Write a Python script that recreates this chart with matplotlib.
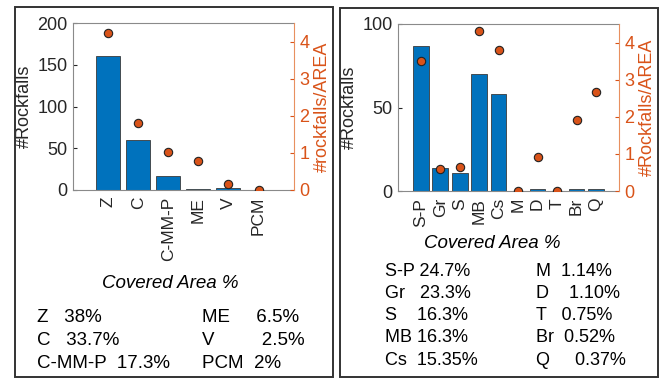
import matplotlib.pyplot as plt
import matplotlib.patches as patches

plt.rcParams['font.family'] = ['Liberation Sans', 'DejaVu Sans']

# left panel data
left_cats = ["Z", "C", "C-MM-P", "ME", "V", "PCM"]
left_counts = [161, 60, 17, 1, 2, 0]
left_ratio = [4.23, 1.80, 1.03, 0.78, 0.15, 0.0]
left_area = [("Z   38%", "ME     6.5%"),
             ("C   33.7%", "V         2.5%"),
             ("C-MM-P  17.3%", "PCM  2%")]

# right panel data
right_cats = ["S-P", "Gr", "S", "MB", "Cs", "M", "D", "T", "Br", "Q"]
right_counts = [87, 14, 11, 70, 58, 0, 1, 0, 1, 1]
right_ratio = [3.51, 0.59, 0.66, 4.30, 3.79, 0.0, 0.91, 0.0, 1.90, 2.68]
right_area = [("S-P 24.7%", "M  1.14%"),
              ("Gr   23.3%", "D    1.10%"),
              ("S    16.3%", "T   0.75%"),
              ("MB 16.3%", "Br  0.52%"),
              ("Cs  15.35%", "Q     0.37%")]

W, H = 666, 379
BLUE = "#0072BD"
ORANGE = "#D95319"
DARK = "#262626"

fig = plt.figure(figsize=(W / 100, H / 100), dpi=100)


def px(x, y):
    return x / W, 1 - y / H


def panel(rect, cats, counts, ratio, ymax, yticks, ylab2):
    ax = fig.add_axes(rect)
    xs = list(range(1, len(cats) + 1))
    ax.bar(xs, counts, width=0.8, color=BLUE, edgecolor="#3a3a3a", linewidth=0.6, zorder=2)
    ax.set_xlim(-0.17, len(cats) + 1.18)
    ax.set_ylim(0, ymax)
    ax.set_yticks(yticks)
    ax.set_xticks(xs)
    ax.set_xticklabels(cats, rotation=90, fontsize=12.5, color=DARK)
    ax.tick_params(axis="y", labelsize=13, colors=DARK, direction="in", length=3, pad=4)
    ax.tick_params(axis="x", direction="in", length=0, pad=5)
    ax.set_ylabel("#Rockfalls", fontsize=13, color=DARK, labelpad=3)
    for s in ["left", "top", "bottom"]:
        ax.spines[s].set_color("#8a8a8a")
        ax.spines[s].set_linewidth(0.8)
    ax.spines["right"].set_visible(False)

    ax2 = ax.twinx()
    ax2.plot(xs, ratio, "o", color=ORANGE, markeredgecolor="#222222", markersize=6,
             markeredgewidth=0.8, zorder=3)
    ax2.set_ylim(0, 4.5)
    ax2.set_yticks([0, 1, 2, 3, 4])
    ax2.tick_params(axis="y", labelsize=13, colors=ORANGE, direction="in", length=3, pad=4)
    ax2.spines["right"].set_color("#E8905F")
    ax2.spines["right"].set_linewidth(0.8)
    for s in ["left", "top", "bottom"]:
        ax2.spines[s].set_visible(False)
    ax2.set_ylabel(ylab2, fontsize=13, color=ORANGE, labelpad=3)
    return ax


# panel frames
for x0, y0, x1, y1 in [(15, 7, 333, 377), (340, 8, 658, 377)]:
    fig.patches.append(patches.Rectangle(px(x0, y1), (x1 - x0) / W, (y1 - y0) / H,
                                         transform=fig.transFigure, fill=False,
                                         edgecolor="#333333", linewidth=1.4))

panel([73 / W, 1 - 190 / H, 221 / W, 167 / H], left_cats, left_counts, left_ratio,
      200, [0, 50, 100, 150, 200], "#rockfalls/AREA")
panel([398 / W, 1 - 191 / H, 221 / W, 167 / H], right_cats, right_counts, right_ratio,
      100, [0, 50, 100], "#Rockfalls/AREA")

# covered area text
fig.text(*px(170, 283), "Covered Area %", style="italic", fontsize=13.5, ha="center", va="center")
for i, (a, b) in enumerate(left_area):
    y = 318 + i * 22.5
    fig.text(*px(37, y), a, fontsize=13.5, va="center")
    fig.text(*px(202, y), b, fontsize=13.5, va="center")

fig.text(*px(492, 243), "Covered Area %", style="italic", fontsize=13.5, ha="center", va="center")
for i, (a, b) in enumerate(right_area):
    y = 271 + i * 22.3
    fig.text(*px(385, y), a, fontsize=13, va="center")
    fig.text(*px(536, y), b, fontsize=13, va="center")

fig.savefig("out.png", dpi=100)
